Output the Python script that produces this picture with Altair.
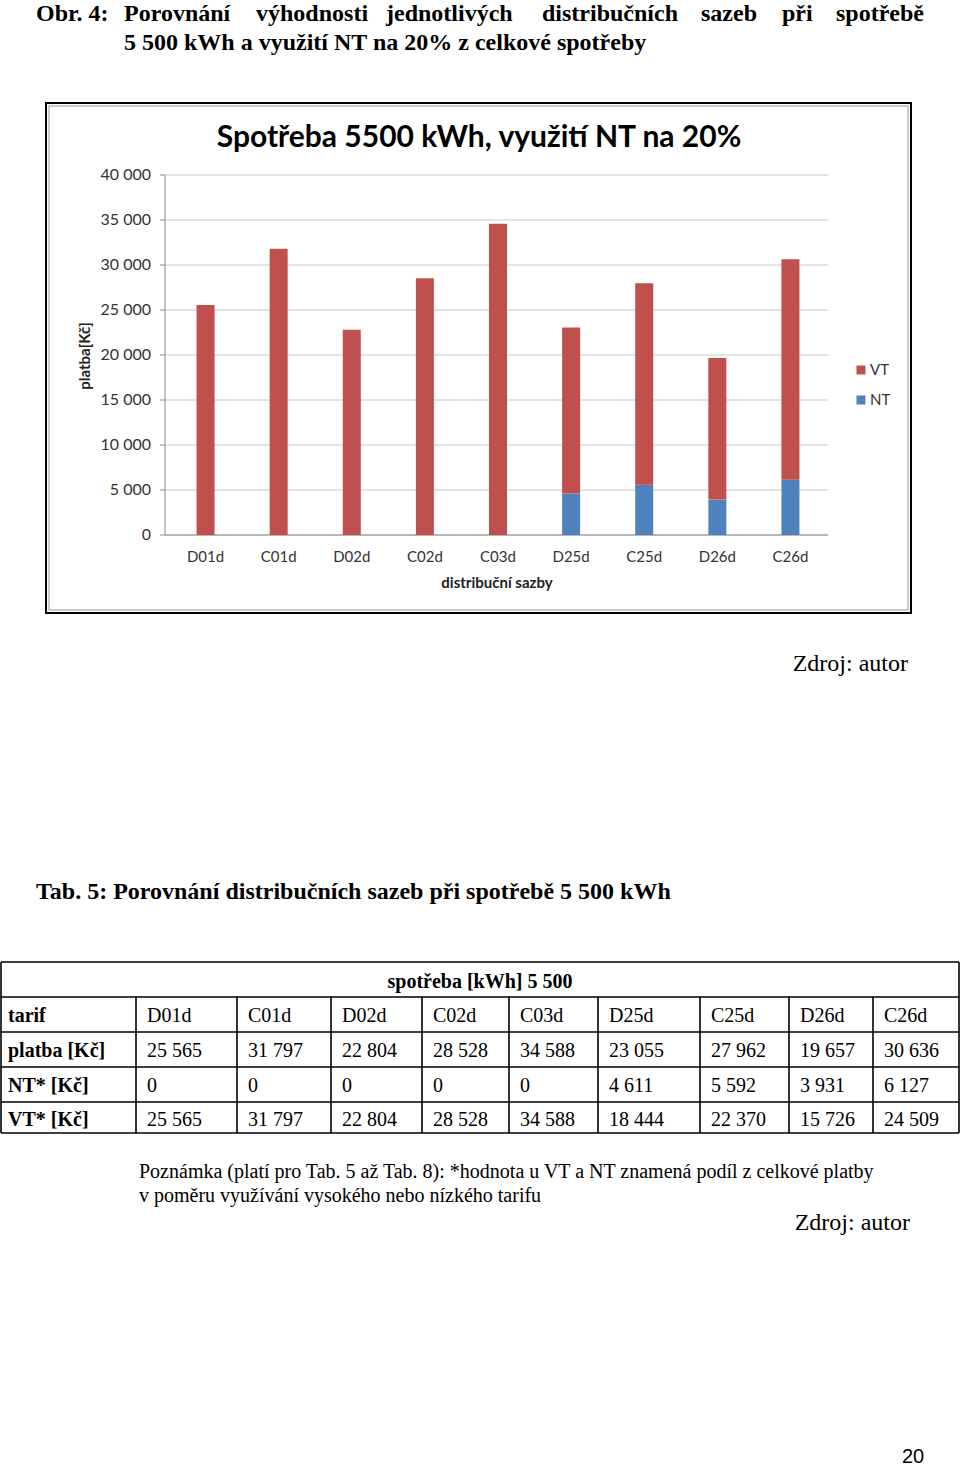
import altair as alt
import pandas as pd

# ---------------- data ----------------
categories = ["D01d", "C01d", "D02d", "C02d", "C03d", "D25d", "C25d", "D26d", "C26d"]
platba = [25565, 31797, 22804, 28528, 34588, 23055, 27962, 19657, 30636]
nt_values = [0, 0, 0, 0, 0, 4611, 5592, 3931, 6127]
vt_values = [25565, 31797, 22804, 28528, 34588, 18444, 22370, 15726, 24509]
series = ["VT", "NT"]
series_colors = ["#C0504D", "#4F81BD"]
y_ticks = [0, 5000, 10000, 15000, 20000, 25000, 30000, 35000, 40000]

row_labels = ["tarif", "platba [Kč]", "NT* [Kč]", "VT* [Kč]"]

# ---------------- layout ----------------
W, H = 960, 1466
SERIF = "Liberation Serif"
SANS = "Lato"
PX0, PX1 = 165, 828          # plot area x (axis line / gridlines)
BX0, BX1 = 169, 827          # category band range
PY0, PY1 = 535, 175          # value 0 and 40000 pixel rows

xs = alt.Scale(domain=categories, range=[BX0, BX1], paddingInner=0, paddingOuter=0)
ys = alt.Scale(domain=[0, 40000], range=[PY0, PY1], nice=False)


def fmt(v):
    return f"{v:,}".replace(",", " ")


def txt(rows, font, size, weight="normal", align="left", color="#000000",
        angle=0, baseline="middle"):
    df = pd.DataFrame(rows, columns=["px", "py", "t"])
    kw = dict(font=font, fontSize=size, fontWeight=weight, align=align,
              baseline=baseline, color=color)
    if angle:
        kw["angle"] = angle
    return alt.Chart(df).mark_text(**kw).encode(
        x=alt.X("px:Q", scale=None, axis=None),
        y=alt.Y("py:Q", scale=None, axis=None),
        text="t:N",
    )


def rules(rows, color="#000000", width=1):
    df = pd.DataFrame(rows, columns=["ax", "ay", "bx", "by"])
    return alt.Chart(df).mark_rule(color=color, strokeWidth=width).encode(
        x=alt.X("ax:Q", scale=None, axis=None),
        y=alt.Y("ay:Q", scale=None, axis=None),
        x2="bx:Q",
        y2="by:Q",
    )


layers = []

# ---------- page heading ----------
words1 = [(36, "Obr. 4:"), (124, "Porovnání"), (256, "výhodnosti"), (386, "jednotlivých"),
          (542, "distribučních"), (701, "sazeb"), (782, "při"), (836, "spotřebě")]
layers.append(txt([(x, 14, w) for x, w in words1] +
                  [(124, 43, "5 500 kWh a využití NT na 20% z celkové spotřeby")],
                  SERIF, 24, "bold"))

# ---------- chart frame ----------
frame = pd.DataFrame({"a": [0]})
layers.append(alt.Chart(frame).mark_rect(fill=None, stroke="#000000", strokeWidth=2).encode(
    x=alt.value(46), x2=alt.value(911), y=alt.value(103), y2=alt.value(613)))
layers.append(alt.Chart(frame).mark_rect(fill=None, stroke="#9A9A9A", strokeWidth=1).encode(
    x=alt.value(49), x2=alt.value(908), y=alt.value(106), y2=alt.value(610)))

# chart title
layers.append(txt([(479, 138, "Spotřeba 5500 kWh, využití NT na 20%")], SANS, 30, "bold",
                  align="center"))

# ---------- gridlines ----------
grid_df = pd.DataFrame({"v": y_ticks})
layers.append(alt.Chart(grid_df).mark_rule(color="#C8C8C8", strokeWidth=1).encode(
    y=alt.Y("v:Q", scale=ys, axis=None), x=alt.value(PX0), x2=alt.value(PX1)))
# tick marks
layers.append(alt.Chart(grid_df).mark_rule(color="#8C8C8C", strokeWidth=1).encode(
    y=alt.Y("v:Q", scale=ys, axis=None), x=alt.value(PX0 - 5), x2=alt.value(PX0)))
# axis lines
layers.append(alt.Chart(pd.DataFrame({"v": [0]})).mark_rule(color="#8C8C8C").encode(
    y=alt.Y("v:Q", scale=ys, axis=None), x=alt.value(PX0), x2=alt.value(PX1)))
layers.append(alt.Chart(pd.DataFrame({"v": [0], "v2": [40000]})).mark_rule(color="#8C8C8C").encode(
    y=alt.Y("v:Q", scale=ys, axis=None), y2="v2:Q", x=alt.value(PX0)))

# y tick labels
ylab_df = pd.DataFrame({"v": y_ticks, "t": [fmt(v) for v in y_ticks]})
layers.append(alt.Chart(ylab_df).mark_text(font=SANS, fontSize=16, align="right",
                                           baseline="middle", color="#333333").encode(
    y=alt.Y("v:Q", scale=ys, axis=None), x=alt.value(151), text="t:N"))

# ---------- bars ----------
bars_rows = []
for c, n, v in zip(categories, nt_values, vt_values):
    bars_rows.append({"cat": c, "series": "NT", "value": n, "ord": 0})
    bars_rows.append({"cat": c, "series": "VT", "value": v, "ord": 1})
bars_df = pd.DataFrame(bars_rows)
layers.append(alt.Chart(bars_df).mark_bar(size=18).encode(
    x=alt.X("cat:N", scale=xs, axis=None),
    y=alt.Y("value:Q", scale=ys, stack="zero", axis=None),
    color=alt.Color("series:N", scale=alt.Scale(domain=series, range=series_colors), legend=None),
    order=alt.Order("ord:Q"),
))

# x labels
xlab_df = pd.DataFrame({"cat": categories})
layers.append(alt.Chart(xlab_df).mark_text(font=SANS, fontSize=15, align="center",
                                           baseline="middle", color="#333333").encode(
    x=alt.X("cat:N", scale=xs, axis=None, bandPosition=0.5), y=alt.value(557), text="cat:N"))

# axis titles
layers.append(txt([(497, 583, "distribuční sazby")], SANS, 15, "bold", align="center",
                  color="#222222"))
layers.append(txt([(85, 356, "platba[Kč]")], SANS, 15, "bold", align="center",
                  color="#222222", angle=270))

# legend
leg_df = pd.DataFrame({"series": series, "py": [370, 400]})
layers.append(alt.Chart(leg_df).mark_square(size=81, opacity=1).encode(
    x=alt.value(861), y=alt.Y("py:Q", scale=None, axis=None),
    color=alt.Color("series:N", scale=alt.Scale(domain=series, range=series_colors), legend=None)))
layers.append(alt.Chart(leg_df).mark_text(font=SANS, fontSize=15, align="left",
                                          baseline="middle", color="#333333").encode(
    x=alt.value(870), y=alt.Y("py:Q", scale=None, axis=None), text="series:N"))

# source
layers.append(txt([(908, 664, "Zdroj: autor")], SERIF, 24, align="right"))

# ---------- table ----------
layers.append(txt([(36, 892, "Tab. 5: Porovnání distribučních sazeb při spotřebě 5 500 kWh")],
                  SERIF, 24, "bold"))

row_lines = [962, 997, 1032, 1067, 1102, 1133]
col_lines = [1, 136, 237, 331, 422, 509, 598, 700, 789, 873, 959]
hl = [(1, y, 959, y) for y in row_lines]
vl = [(1, 962, 1, 1133), (959, 962, 959, 1133)]
vl += [(x, 997, x, 1133) for x in col_lines[1:-1]]
layers.append(rules(hl + vl, color="#000000", width=1.6))

row_cy = [1016, 1051, 1086, 1120]
layers.append(txt([(480, 982, "spotřeba [kWh] 5 500")], SERIF, 20, "bold", align="center"))
layers.append(txt([(8, cy, lab) for cy, lab in zip(row_cy, row_labels)], SERIF, 20, "bold"))

cell_rows = []
table_vals = [categories, [fmt(v) for v in platba], [fmt(v) for v in nt_values],
              [fmt(v) for v in vt_values]]
for cy, vals in zip(row_cy, table_vals):
    for x0, v in zip(col_lines[1:-1], vals):
        cell_rows.append((x0 + 11, cy, v))
layers.append(txt(cell_rows, SERIF, 20))

# note
layers.append(txt([
    (139, 1172, "Poznámka (platí pro Tab. 5 až Tab. 8): *hodnota u VT a NT znamená podíl z celkové platby"),
    (139, 1196, "v poměru využívání vysokého nebo nízkého tarifu"),
], SERIF, 20))
layers.append(txt([(910, 1223, "Zdroj: autor")], SERIF, 24, align="right"))

# page number
layers.append(txt([(913, 1457, "20")], "Liberation Sans", 20, align="center"))

chart = alt.layer(*layers).properties(
    width=W, height=H, padding=0, autosize="none", background="white"
).configure_view(stroke=None)

chart.save("out.html", embed_options={"renderer": "svg", "actions": False})
